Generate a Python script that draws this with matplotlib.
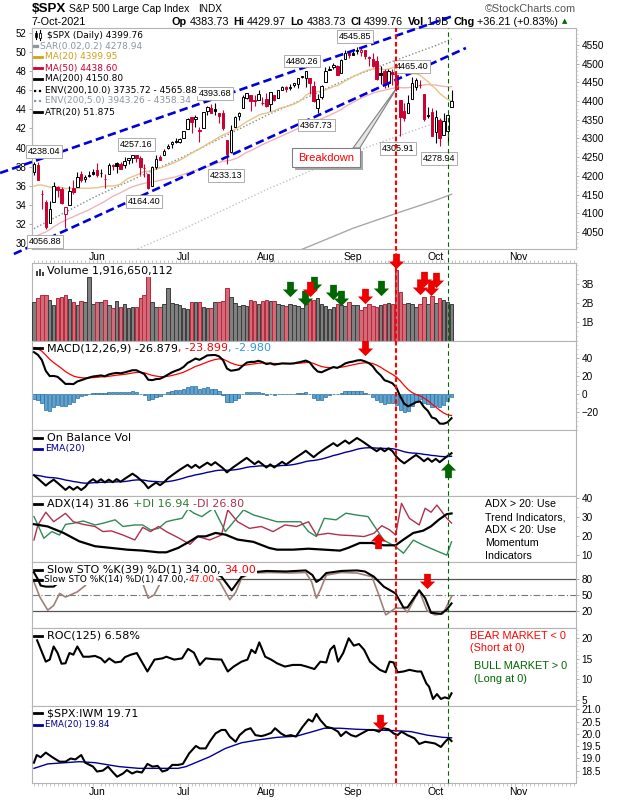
import numpy as np
import pandas as pd
import matplotlib
matplotlib.use("Agg")
import matplotlib.pyplot as plt
from matplotlib.lines import Line2D
from matplotlib.patches import Polygon, Rectangle
from matplotlib.path import Path
from matplotlib.ticker import AutoMinorLocator, FuncFormatter
import matplotlib.transforms as mtrans

plt.rcParams['font.family'] = ['Liberation Sans', 'DejaVu Sans']

# ---------------- data ----------------
holidays = ["2021-05-31", "2021-07-05", "2021-09-06", "2021-11-25"]
days = pd.bdate_range("2021-05-07", "2021-11-30")
days = days[~days.isin(pd.to_datetime(holidays))]

opens = [4210.34, 4228.29, 4150.34, 4130.55, 4074.99, 4129.58, 4169.92, 4165.94, 4098.45, 4121.97,
         4168.61, 4170.16, 4205.94, 4191.59, 4201.94, 4210.77, 4216.52, 4206.82, 4191.43, 4206.05,
         4229.34, 4233.81, 4232.99, 4228.56, 4242.90, 4248.31, 4255.28, 4248.87, 4220.37, 4204.78,
         4173.40, 4224.61, 4249.27, 4256.97, 4274.45, 4284.90, 4293.21, 4290.65, 4300.73, 4326.60,
         4356.46, 4351.01, 4321.07, 4329.38, 4372.41, 4381.07, 4380.11, 4369.02, 4367.43, 4296.40,
         4265.11, 4331.13, 4361.27, 4381.20, 4409.58, 4416.38, 4402.95, 4403.59, 4395.12, 4406.86,
         4392.74, 4415.95, 4408.86, 4429.07, 4437.77, 4435.79, 4442.18, 4446.08, 4464.84, 4461.65,
         4462.12, 4440.94, 4382.44, 4410.56, 4450.29, 4484.40, 4490.45, 4493.75, 4474.10, 4513.76,
         4529.75, 4528.80, 4534.48, 4532.42, 4535.38, 4518.09, 4513.02, 4506.92, 4474.81, 4479.33,
         4447.49, 4477.09, 4469.74, 4402.95, 4374.45, 4367.43, 4406.75, 4438.04, 4442.12, 4419.54,
         4362.41, 4370.67, 4317.16, 4348.84, 4309.87, 4319.57, 4383.73]
highs = [4238.04, 4236.39, 4162.04, 4134.73, 4131.58, 4183.13, 4171.92, 4169.15, 4116.93, 4172.80,
         4188.72, 4209.52, 4213.42, 4202.61, 4213.38, 4218.36, 4234.12, 4217.37, 4204.39, 4233.45,
         4232.34, 4236.74, 4237.09, 4249.74, 4248.38, 4255.59, 4257.16, 4251.89, 4232.29, 4204.78,
         4226.24, 4255.84, 4256.60, 4271.28, 4286.12, 4292.14, 4300.52, 4302.43, 4320.66, 4355.43,
         4356.46, 4361.88, 4330.88, 4371.60, 4386.68, 4392.37, 4393.68, 4369.02, 4375.09, 4296.40,
         4336.84, 4359.70, 4369.87, 4415.18, 4422.73, 4416.38, 4415.47, 4429.97, 4412.25, 4422.18,
         4423.79, 4416.17, 4429.76, 4440.82, 4439.39, 4445.21, 4449.44, 4461.77, 4468.37, 4480.26,
         4462.12, 4454.32, 4418.61, 4444.35, 4489.88, 4492.81, 4501.71, 4495.90, 4513.33, 4537.36,
         4531.39, 4537.11, 4545.85, 4541.45, 4535.38, 4521.79, 4529.90, 4520.47, 4492.99, 4485.68,
         4486.87, 4485.87, 4471.52, 4402.95, 4394.87, 4416.75, 4465.40, 4463.12, 4457.30, 4419.54,
         4385.57, 4382.55, 4375.19, 4355.51, 4369.23, 4365.57, 4429.97]
lows = [4201.64, 4188.13, 4111.53, 4056.88, 4074.99, 4129.58, 4142.69, 4125.99, 4061.41, 4121.97,
        4151.72, 4170.16, 4182.52, 4184.11, 4197.78, 4203.57, 4197.59, 4198.27, 4167.93, 4206.05,
        4215.66, 4208.41, 4218.74, 4220.34, 4232.25, 4234.07, 4238.35, 4202.45, 4196.05, 4164.40,
        4173.40, 4217.27, 4241.43, 4256.97, 4271.16, 4274.67, 4287.04, 4287.96, 4300.73, 4326.60,
        4314.37, 4329.79, 4289.37, 4329.38, 4364.03, 4366.92, 4362.36, 4340.70, 4322.53, 4233.13,
        4262.05, 4331.13, 4350.06, 4381.20, 4405.45, 4372.51, 4387.01, 4403.59, 4389.65, 4384.81,
        4373.00, 4400.23, 4408.86, 4429.07, 4424.74, 4430.03, 4436.42, 4435.96, 4460.82, 4437.66,
        4417.83, 4397.59, 4367.73, 4406.80, 4450.29, 4482.28, 4485.66, 4468.99, 4474.10, 4513.76,
        4515.80, 4522.02, 4524.66, 4521.94, 4513.00, 4493.95, 4492.07, 4457.66, 4445.70, 4435.46,
        4438.37, 4443.80, 4427.76, 4305.91, 4347.96, 4367.43, 4406.75, 4430.27, 4436.19, 4346.33,
        4355.08, 4306.24, 4288.52, 4278.94, 4309.87, 4290.49, 4383.73]
closes = [4232.60, 4188.43, 4152.10, 4063.04, 4112.50, 4173.85, 4163.29, 4127.83, 4115.68, 4159.12,
          4155.86, 4197.05, 4188.13, 4195.99, 4200.88, 4204.11, 4202.04, 4208.12, 4192.85, 4229.89,
          4226.52, 4227.26, 4219.55, 4239.18, 4247.44, 4255.15, 4246.59, 4223.70, 4221.86, 4166.45,
          4224.79, 4246.44, 4241.84, 4266.49, 4280.70, 4290.61, 4291.80, 4297.50, 4319.94, 4352.34,
          4343.54, 4358.13, 4320.82, 4369.55, 4384.63, 4369.21, 4374.30, 4360.03, 4327.16, 4258.49,
          4323.06, 4358.69, 4367.48, 4411.79, 4422.30, 4401.46, 4400.64, 4419.15, 4395.26, 4387.16,
          4423.15, 4402.66, 4429.10, 4436.52, 4432.35, 4436.75, 4447.70, 4460.83, 4468.00, 4479.71,
          4448.08, 4400.27, 4405.80, 4441.67, 4479.53, 4486.23, 4496.19, 4470.00, 4509.37, 4528.79,
          4522.68, 4524.09, 4536.95, 4535.43, 4520.03, 4514.07, 4493.28, 4458.58, 4468.73, 4443.05,
          4480.70, 4473.75, 4432.99, 4357.73, 4354.19, 4395.64, 4448.98, 4455.48, 4443.11, 4352.63,
          4359.46, 4307.54, 4357.04, 4300.46, 4345.72, 4363.55, 4399.76]
volumes = [2.05, 2.28, 2.40, 2.40, 2.16, 1.90, 2.25, 2.33, 2.42, 2.19,
           2.05, 1.88, 2.10, 2.07, 3.39, 1.93, 2.07, 2.05, 2.15, 1.88,
           1.75, 2.10, 1.80, 1.92, 1.75, 1.80, 1.80, 2.25, 2.40, 3.45,
           2.05, 1.80, 1.80, 1.95, 2.77, 1.98, 1.92, 1.88, 1.72, 1.70,
           2.07, 2.05, 2.07, 1.80, 1.75, 1.75, 2.07, 2.05, 2.10, 2.80,
           2.30, 2.00, 1.85, 1.90, 1.85, 2.15, 2.10, 1.95, 2.10, 2.15,
           2.10, 2.08, 1.95, 1.90, 1.85, 1.92, 1.90, 1.85, 1.75, 1.95,
           2.20, 2.15, 2.25, 1.92, 1.85, 1.70, 1.80, 1.95, 1.90, 1.85,
           2.05, 1.90, 1.90, 1.65, 1.80, 1.92, 1.85, 1.80, 1.90, 1.95,
           2.00, 1.92, 3.75, 2.60, 1.95, 1.98, 1.95, 1.78, 1.95, 2.30,
           1.95, 2.35, 2.00, 2.25, 2.15, 2.05, 1.92]
# closes from 25-Feb-2021 to 6-May-2021 (warm-up for the averages and MACD)
prior_closes = [3829.34, 3811.15,
                3901.82, 3870.29, 3819.72, 3768.47, 3841.94, 3821.35, 3875.44, 3898.81, 3939.34, 3943.34,
                3968.94, 3962.71, 3974.12, 3915.46, 3913.10, 3940.59, 3910.52, 3889.14, 3909.52, 3974.54,
                3971.09, 3958.55, 3972.89,
                4019.87, 4077.91, 4073.94, 4079.95, 4097.17, 4128.80, 4127.99, 4141.59, 4124.66, 4170.42,
                4185.47, 4163.26, 4134.94, 4173.42, 4134.98, 4180.17, 4187.62, 4186.72, 4183.18, 4211.47,
                4181.17, 4192.66, 4164.66, 4167.59, 4201.62]

# values (trading-day index, value)
ma200_x = [0, 16, 38, 59, 70, 81, 92, 102, 106]
ma200_v = [3690, 3770, 3865, 3965, 4012, 4060, 4100, 4135, 4150.8]

adx_x = [0, 3.5, 7.5, 11.5, 15.5, 19.6, 23.6, 27.6, 31.6, 33.6, 36.6, 39.6, 41.6, 43.6, 46.1, 48.6, 51.7,
         55.7, 59.7, 61.7, 65.7, 69.7, 73.7, 77.7, 79.7, 82.7, 85.8, 88.8, 91.8, 93.8, 96.3, 98.8, 100.8,
         102.8, 104.8, 106]
adx_v = [26.2, 25.0, 21.6, 17.2, 14.6, 13.7, 12.8, 12.3, 11.4, 11.4, 13.7, 17.2, 19.8, 19.8, 21.6, 20.7, 18.1,
         16.9, 13.7, 12.8, 12.8, 13.3, 12.8, 12.3, 13.7, 16.3, 16.3, 15.1, 15.1, 18.1, 21.6, 22.8, 25.1,
         28.6, 31.5, 31.86]
pdi_x = [0, 1.0, 2.5, 4.5, 6.5, 8.0, 10.0, 12.5, 15.5, 17.5, 20.6, 22.6, 25.6, 27.6, 29.6, 31.6, 33.6, 35.6,
         37.6, 39.1, 40.6, 42.6, 45.6, 48.6, 50.7, 53.2, 55.7, 58.7, 61.7, 64.7, 67.7, 69.7, 71.7, 73.7,
         76.7, 79.2, 81.7, 84.8, 86.8, 88.8, 91.8, 93.8, 96.3, 98.8, 101.8, 104.8, 106]
pdi_v = [30.2, 25.8, 18.8, 22.3, 20.5, 26.1, 26.7, 27.9, 25.8, 26.7, 28.5, 25.0, 25.8, 25.8, 23.2, 24.0, 27.5,
         28.5, 29.3, 34.2, 32.0, 30.2, 34.6, 22.3, 27.5, 33.7, 31.1, 29.3, 27.5, 27.5, 27.5, 22.3, 19.7,
         29.3, 28.5, 32.0, 31.1, 30.2, 24.0, 17.8, 14.4, 10.9, 17.8, 15.2, 12.5, 9.9, 16.94]
mdi_x = [0, 1.0, 3.0, 5.0, 8.0, 10.0, 12.5, 15.5, 17.5, 19.6, 22.6, 25.6, 27.6, 29.6, 31.6, 33.6, 36.6, 39.6,
         41.6, 44.6, 47.6, 49.2, 51.7, 54.7, 57.7, 60.7, 63.7, 66.7, 69.7, 71.7, 74.7, 77.7, 80.7, 83.8,
         86.3, 88.3, 90.3, 91.8, 93.3, 95.3, 97.8, 99.3, 100.8, 102.3, 104.8, 106]
mdi_v = [17.9, 25.8, 32.5, 27.5, 31.9, 27.5, 26.1, 25.0, 22.3, 22.7, 20.5, 17.9, 24.5, 22.3, 25.0, 22.3, 19.1,
         15.6, 19.7, 17.9, 20.5, 33.7, 27.5, 24.0, 25.0, 22.3, 25.8, 25.0, 27.5, 20.5, 21.4, 20.5, 20.2,
         19.7, 21.4, 25.4, 23.2, 20.5, 37.2, 29.3, 25.8, 34.6, 32.5, 36.3, 29.3, 26.80]

sto39_x = [0, 1.0, 1.7, 3.0, 5.0, 6.0, 7.5, 10, 13, 16, 20, 24, 27, 29, 31, 34, 38, 42, 45, 47.6, 50.2,
           52.7, 55, 59, 64, 69, 70.7, 71.7, 72.7, 74.2, 78, 82, 84, 86.3, 88.8, 91.8, 93.8, 94.8, 97.8,
           99.3, 100.8, 103.3, 104.8, 106]
sto39_v = [93, 80, 68, 66, 66, 72, 80, 84, 88, 90, 88, 92, 90, 80, 84, 92, 95, 96, 95, 85, 59,
           85, 93, 96, 95, 97, 88, 75, 80, 92, 96, 97, 95, 85, 66, 53, 26, 26, 59,
           44, 16, 14, 22, 34]
sto14_x = [0, 1.5, 3.5, 5.0, 6.5, 8.0, 11, 13, 14.5, 16, 20, 25, 27.5, 29, 30.5, 32, 34, 38, 45, 47.2,
           49.7, 51.2, 52.7, 55, 60, 65, 69, 70.5, 71.7, 72.7, 74.2, 78, 82, 85.8, 87.3, 89.3, 91.8,
           93.8, 94.8, 97.8, 99.8, 101.8, 103.8, 106]
sto14_v = [75, 46, 21, 30, 53, 46, 56, 68, 80, 88, 85, 90, 75, 44, 50, 72, 88, 92, 90, 75,
           41, 55, 82, 92, 93, 92, 93, 75, 44, 60, 88, 93, 92, 85, 55, 12, 25,
           25, 17, 59, 20, 12, 14, 47]

roc_x = [0.8, 3.0, 4.0, 5.0, 6.0, 7.0, 8.0, 9.0, 10.0, 11.0, 12.5, 14.0, 15.5, 17.0, 18.0, 19.1, 20.6,
         22.1, 23.1, 24.6, 26.1, 27.6, 28.8, 30.6, 32.6, 33.6, 35.6, 37.6, 39.1, 40.6, 42.1, 43.6, 45.6,
         47.6, 49.2, 50.7, 52.7, 54.2, 55.2, 56.2, 57.2, 58.7, 60.2, 61.7, 63.7, 65.7, 67.7, 69.2, 71.2,
         72.7, 74.2, 75.2, 76.2, 77.2, 78.5, 79.9, 81.2, 82.5, 83.8, 85.3, 86.8, 87.8, 89.3, 90.3, 91.3,
         92.3, 93.8, 95.3, 97.3, 98.3, 99.6, 100.3, 101.3, 102.3, 103.3, 104.3, 105.3, 106]
roc_v = [19.5, 14.3, 14.8, 18.0, 16.4, 13.8, 13.9, 16.4, 16.0, 18.0, 15.5, 15.5, 15.7, 15.1, 14.1, 15.1, 14.1,
         14.3, 15.4, 16.0, 16.4, 13.9, 11.9, 14.8, 15.1, 15.5, 14.8, 15.1, 17.4, 16.5, 13.5, 15.1, 14.9,
         14.8, 11.9, 13.1, 14.3, 14.8, 17.2, 16.4, 19.0, 15.5, 14.8, 13.9, 13.1, 13.5, 13.5, 13.1, 12.5,
         14.3, 14.1, 17.2, 18.2, 14.3, 16.4, 20.0, 18.2, 18.6, 17.2, 14.3, 13.1, 12.3, 11.7, 14.3, 14.1,
         11.7, 11.9, 12.3, 11.9, 11.9, 9.0, 8.2, 5.2, 6.4, 5.2, 5.6, 5.3, 6.58]

ratio_x = [0, 0.7, 1.7, 3.0, 4.5, 6.5, 8.0, 9.3, 10.5, 12.0, 13.0, 15.0, 16.0, 17.5, 18.8, 20.1, 21.1, 22.6,
           23.6, 24.9, 26.1, 27.4, 28.8, 30.1, 31.4, 32.6, 33.8, 35.1, 36.6, 37.8, 39.4, 41.1, 42.1, 43.6,
           44.6, 46.1, 47.6, 48.6, 49.7, 51.2, 52.2, 53.7, 55.0, 56.2, 57.7, 58.7, 60.2, 61.2, 62.7, 63.9,
           65.2, 66.5, 68.2, 69.7, 70.7, 71.7, 72.7, 74.2, 75.7, 77.2, 77.9, 79.2, 80.5, 81.7, 83.2, 84.8,
           86.3, 87.6, 88.6, 90.0, 91.3, 92.3, 93.3, 94.8, 96.6, 97.8, 99.3, 100.8, 101.8, 103.3, 104.5,
           105.3, 106]
ratio_v = [18.83, 19.14, 19.05, 19.24, 19.07, 18.87, 18.87, 19.0, 18.96, 19.14, 18.83, 18.67, 18.47, 18.51,
           18.67, 18.43, 18.26, 18.39, 18.53, 18.39, 18.47, 18.43, 18.78, 18.67, 18.70, 18.47, 18.53, 18.74,
           18.74, 18.78, 19.21, 19.51, 19.41, 19.41, 19.68, 20.02, 20.16, 20.16, 19.89, 19.68, 19.95, 20.16,
           20.23, 19.95, 19.91, 19.95, 20.04, 20.23, 20.02, 19.91, 19.95, 19.89, 20.29, 20.59, 20.50, 20.81,
           20.56, 20.29, 20.23, 20.09, 19.91, 20.09, 19.95, 19.89, 20.02, 20.16, 20.16, 20.09, 20.23, 20.19,
           20.02, 19.95, 20.09, 19.95, 19.82, 19.59, 19.68, 19.64, 19.61, 19.47, 19.70, 19.82, 19.71]
ratio_ema_x = [0, 3.5, 11.5, 15.5, 21.6, 26.6, 31.6, 36.6, 38.6, 41.6, 44.6, 48.6, 52.7, 56.7, 61.7, 66.7,
               70.7, 73.7, 77.7, 81.7, 86.8, 91.8, 95.8, 99.8, 103.8, 106]
ratio_ema_v = [18.6, 18.78, 18.87, 18.83, 18.67, 18.6, 18.6, 18.6, 18.67, 18.87, 19.07, 19.41, 19.64, 19.75,
               19.86, 19.91, 20.09, 20.23, 20.23, 20.19, 20.16, 20.13, 20.09, 19.95, 19.86, 19.84]

# chart annotations
tag_idx = [0, 3, 26, 29, 46, 49, 69, 72, 82, 93, 96, 103]
tag_high = [True, False, True, False, True, False, True, False, True, False, True, False]
tag_dx = [10, -1, 0, -4, 0, -1, -4, -1, -2, -2, 0, -1]
upper_trend = ([-8.6, 106.35], [4207.8, 4627.5])
lower_trend = ([-5.1, 109.65], [3991.2, 4542.0])
red_vline, green_vline = 92, 105
vol_green_x = [65.0, 68.7, 71.0, 76.0, 77.9, 88.1]
vol_green_y = [2.74, 2.28, 3.0, 2.56, 2.25, 2.77]
vol_red_x = [70.2, 84.0, 91.8, 98.1, 99.0, 100.8, 102.1]
vol_red_y = [2.74, 2.38, 4.2, 2.86, 3.26, 2.79, 3.21]

RED = '#cc0033'
W, H = 620, 800
LEFT, RIGHT = 32, 576
XMAX = 137.6

fig = plt.figure(figsize=(6.2, 8.0), dpi=100)
renderer = fig.canvas.get_renderer()


def fx(px):
    return px / W


def fy(py):
    return 1 - py / H


def panel(top, bottom):
    a = fig.add_axes([fx(LEFT), fy(bottom), (RIGHT - LEFT) / W, (bottom - top) / H])
    a.set_xlim(-0.5, XMAX)
    for s in a.spines.values():
        s.set_color('#b4b4b4')
        s.set_linewidth(0.8)
    a.yaxis.tick_right()
    a.tick_params(axis='y', which='major', length=2.5, width=0.6, color='#a0a0a0', labelsize=7.2, pad=1.5)
    a.tick_params(axis='y', which='minor', length=1.5, width=0.5, color='#c8c8c8')
    a.set_xticks([])
    return a


def legend(y, parts, x=47, size=8, icon=None, icon_color='black'):
    if icon == 'line':
        fig.add_artist(Line2D([fx(34), fx(42)], [fy(y), fy(y)], color=icon_color, lw=2, zorder=21))
    elif icon == 'dots':
        fig.add_artist(Line2D([fx(34), fx(43)], [fy(y), fy(y)], color=icon_color, lw=1.6,
                              linestyle=(0, (1, 1.2)), zorder=21))
    for part in parts:
        s, colr = part[0], part[1]
        x += part[2] if len(part) > 2 else 0
        t = fig.text(fx(x), fy(y), s, color=colr, fontsize=size, family=['DejaVu Sans'],
                     va='center', ha='left', zorder=20,
                     bbox=dict(boxstyle='square,pad=0.08', fc='white', ec='none'))
        x += t.get_window_extent(renderer).width


down_arrow = Path([(-0.22, 0.5), (0.22, 0.5), (0.22, 0.0), (0.5, 0.0), (0.0, -0.5),
                   (-0.5, 0.0), (-0.22, 0.0), (-0.22, 0.5)], closed=True)
up_arrow = Path([(vx, -vy) for vx, vy in down_arrow.vertices], closed=True)


def arrows(a, xs, ys, marker, color, transform=None):
    kw = {} if transform is None else {'transform': transform}
    a.plot(xs, ys, linestyle='none', marker=marker, markersize=11, color=color,
           markeredgewidth=0, clip_on=False, zorder=15, **kw)


x = np.arange(len(closes))
o, hi, lo, c = (np.array(v) for v in (opens, highs, lows, closes))
prev = np.r_[prior_closes[-1], c[:-1]]
up = c >= prev
edge = np.where(up, 'black', RED)
face = np.where(c >= o, 'white', edge)

allc = pd.Series(prior_closes + closes)
n0 = len(prior_closes)
ma20 = allc.rolling(20).mean().values[n0:]
ma50 = allc.rolling(50).mean().values[n0:]
macd_all = allc.ewm(span=12, adjust=False).mean() - allc.ewm(span=26, adjust=False).mean()
sig_all = macd_all.ewm(span=9, adjust=False).mean()
macd = macd_all.values[n0:]
signal = sig_all.values[n0:]
hist = macd - signal
obv = np.cumsum(np.sign(c - prev) * np.array(volumes))
obv_ema = pd.Series(obv).ewm(span=20, adjust=False).mean().values
ma200 = np.array(ma200_v)

month_idx = [int(np.argmax((days.month == m) & (days.day <= 7))) for m in range(6, 12)]
month_lbl = ['Jun', 'Jul', 'Aug', 'Sep', 'Oct', 'Nov']

# ---------------- header ----------------
fig.text(fx(32), fy(8.5), "$SPX", fontsize=9.6, fontweight='bold', va='center', zorder=-1)
fig.text(fx(69), fy(9), "S&P 500 Large Cap Index", fontsize=7.5, va='center', zorder=-1)
fig.text(fx(198), fy(9), "INDX", fontsize=7.2, va='center', zorder=-1)
fig.text(fx(576), fy(9), "\u00a9StockCharts.com", fontsize=7.8, color='#555555', ha='right',
         va='center', zorder=-1)
fig.text(fx(32), fy(22), "7-Oct-2021", fontsize=7.8, va='center', zorder=-1)
quote = [("Op", True), ("4383.73", False), ("Hi", True), ("4429.97", False), ("Lo", True),
         ("4383.73", False), ("Cl", True), ("4399.76", False), ("Vol", True), ("1.9B", False),
         ("Chg", True), ("+36.21 (+0.83%)", False)]
qx = 172
for s, b in quote:
    t = fig.text(fx(qx), fy(22), s, fontsize=7.8, fontweight='bold' if b else 'normal',
                 va='center', zorder=-1)
    qx += t.get_window_extent(renderer).width + (2.5 if b else 4.5)
fig.text(fx(qx), fy(21.5), "\u25b2", color='#006600', fontsize=5, va='center',
         family=['DejaVu Sans'], zorder=-1)

# ---------------- price panel ----------------
ax = panel(28, 249)
ax.set_ylim(4004.5, 4595.5)
ax.set_yticks(range(4050, 4551, 50))
ax.yaxis.set_minor_locator(AutoMinorLocator(5))
ax.set_xticks(month_idx)
ax.set_xticklabels(month_lbl, fontsize=7.5)
ax.tick_params(axis='x', length=0, pad=2.5)

sec = ax.secondary_yaxis('left', functions=(lambda p: 30 + (p - 4020.6) * 22 / 561.4,
                                            lambda a: 4020.6 + (a - 30) * 561.4 / 22))
sec.set_yticks(range(30, 53, 2))
sec.tick_params(length=2.5, width=0.6, color='#a0a0a0', labelsize=7.0, pad=1.5)
sec.spines['left'].set_color('#b4b4b4')

ax.plot(ma200_x, ma200 * 1.10, color='#8a8a8a', lw=1, linestyle=(0, (1, 1.5)), zorder=2)
ax.plot(ma200_x, ma200 * 1.05, color='#c4c4c4', lw=1, linestyle=(0, (1, 1.5)), zorder=2)
ax.plot(ma200_x, ma200, color='#a8a8a8', lw=1, zorder=2)
ax.plot(x, ma50, color='#f0b4b8', lw=1, zorder=2)
ax.plot(x, ma20, color='#e8c48a', lw=1, zorder=2)

ax.vlines(x, lo, hi, colors=edge, lw=0.8, zorder=4)
ax.bar(x, np.maximum(np.abs(c - o), 0.6), bottom=np.minimum(o, c), width=0.62, color=face,
       edgecolor=edge, linewidth=0.7, zorder=5)

for tr in (upper_trend, lower_trend):
    ax.plot(tr[0], tr[1], color='#0000dd', lw=1.9, dashes=(3.2, 1.6), clip_on=False, zorder=12)

for i, is_h, dx in zip(tag_idx, tag_high, tag_dx):
    p = hi[i] if is_h else lo[i]
    ax.annotate(f"{p:.2f}", xy=(i, p), xytext=(dx * 0.72, (10 if is_h else -12) * 0.72),
                textcoords='offset points', ha='center', va='center', fontsize=6.5,
                bbox=dict(boxstyle='square,pad=0.2', fc='white', ec='#a0a0a0', lw=0.6),
                zorder=16, annotation_clip=False)

# "Breakdown" callout
ax.add_patch(Polygon([(81.0, 4274.6), (92.6, 4443.0), (82.7, 4274.6)], closed=True,
                     fc='#e6e6e6', ec='#808080', lw=0.8, zorder=13))
ax.add_patch(Rectangle((66.3, 4215.8), 17.2, 50.8, fc='#a8a8a8', ec='none', zorder=13))
ax.add_patch(Rectangle((65.5, 4223.8), 17.2, 50.8, fc='white', ec='#808080', lw=0.8, zorder=14))
ax.text(74.1, 4249, "Breakdown", color='#ff0000', fontsize=8, ha='center', va='center', zorder=15)

LS = 6.5
legend(35, [("$SPX (Daily) 4399.76", 'black')], size=LS)
fig.add_artist(Line2D([fx(36), fx(36)], [fy(31), fy(39)], color='black', lw=0.8, zorder=21))
fig.add_artist(Rectangle((fx(35), fy(37)), fx(2), 4 / H, fc='black', ec='black', lw=0.5, zorder=21))
fig.add_artist(Line2D([fx(40), fx(40)], [fy(30), fy(40)], color='black', lw=0.8, zorder=21))
fig.add_artist(Rectangle((fx(39), fy(38)), fx(2), 5 / H, fc='white', ec='black', lw=0.6, zorder=21))
legend(46, [("SAR(0.02,0.2) 4278.94", '#8c96a0')], x=40, size=LS)
fig.add_artist(Line2D([fx(34), fx(37)], [fy(46), fy(46)], color='#8c96a0', lw=0, marker='s',
                      markersize=2, zorder=21))
legend(57, [("MA(20) 4399.95", '#d4a017')], x=45, size=LS, icon='line', icon_color='#d4a017')
legend(68, [("MA(50) 4438.60", RED)], x=45, size=LS, icon='line', icon_color=RED)
legend(79, [("MA(200) 4150.80", 'black')], x=45, size=LS, icon='line')
legend(91, [("ENV(200,10.0) 3735.72 - 4565.88", 'black')], x=45, size=LS, icon='dots')
legend(101, [("ENV(200,5.0) 3943.26 - 4358.34", '#8c96a0')], x=45, size=LS, icon='dots',
       icon_color='#8c96a0')
legend(112, [("ATR(20) 51.875", 'black')], x=45, size=LS, icon='line')

# ---------------- volume ----------------
axv = panel(263, 341)
axv.set_ylim(0, 4.1)
axv.set_yticks([1, 2, 3])
axv.yaxis.set_major_formatter(FuncFormatter(lambda v, _: f"{v:.0f}B"))
axv.yaxis.set_minor_locator(AutoMinorLocator(4))
axv.set_xticks(np.arange(0, 138), minor=True)
axv.tick_params(axis='x', which='minor', top=True, bottom=False, length=2, width=0.5, color='#b0b0b0')
axv.bar(x, volumes, width=0.9, color=np.where(up, '#7f7f7f', '#d46a78'),
        edgecolor=np.where(up, '#3c3c3c', '#b8283c'), linewidth=0.7, zorder=3)
arrows(axv, vol_green_x, vol_green_y, down_arrow, '#006600')
arrows(axv, vol_red_x, vol_red_y, down_arrow, '#ee0000')
legend(271, [("Volume 1,916,650,112", 'black')])
for bx, bh in ((35.5, 5), (38.5, 7), (41.5, 4)):
    fig.add_artist(Rectangle((fx(bx), fy(275.5)), 2 / W, bh / H, fc='#444444', ec='none', zorder=21))

# ---------------- MACD ----------------
axm = panel(341, 430)
axm.set_ylim(-40, 58.9)
axm.set_yticks([-20, 0, 20, 40])
axm.yaxis.set_minor_locator(AutoMinorLocator(4))
axm.bar(x, hist, width=0.85, color='#5aa5d6', edgecolor='#2a6a98', linewidth=0.5, zorder=2)
axm.plot(x, signal, color='#ff0000', lw=0.9, zorder=3)
axm.plot(x, macd, color='black', lw=1.5, zorder=4)
arrows(axm, [84.0], [51.4], down_arrow, '#ee0000')
legend(348.5, [("MACD(12,26,9) -26.879", 'black'), (", -23.899", '#ff0000'), (", -2.980", '#3399cc')],
       icon='line')

# ---------------- OBV ----------------
axo = panel(430, 496)
axo.set_yticks([])
r = obv.max() - obv.min()
axo.set_ylim(obv.min() - 6 / 52 * r, obv.max() + 8 / 52 * r)
axo.plot(x, obv_ema, color='#000099', lw=1, zorder=2)
axo.plot(x, obv, color='black', lw=1.5, zorder=3)
arrows(axo, [105.1], [0.394], up_arrow, '#006600',
       transform=mtrans.blended_transform_factory(axo.transData, axo.transAxes))
legend(437.7, [("On Balance Vol", 'black')], icon='line')
legend(449, [("EMA(20)", '#000099')], x=45, size=6.8, icon='line', icon_color='#000099')

# ---------------- ADX ----------------
axa = panel(496, 562)
axa.set_ylim(6.3, 41.05)
axa.set_yticks([10, 20, 30, 40])
axa.yaxis.set_minor_locator(AutoMinorLocator(2))
axa.plot(pdi_x, pdi_v, color='#2e8b57', lw=1, zorder=2)
axa.plot(mdi_x, mdi_v, color='#b03050', lw=1, zorder=2)
axa.plot(adx_x, adx_v, color='black', lw=1.6, zorder=3)
arrows(axa, [87.3], [17.5], up_arrow, '#ee0000')
legend(504, [("ADX(14) 31.86", 'black'), ("+DI 16.94", '#2e7d32', 4), ("-DI 26.80", '#b03050', 4)],
       icon='line')
for k, line in enumerate(["ADX > 20: Use", "Trend Indicators,", "ADX < 20: Use", "Momentum",
                          "Indicators"]):
    fig.text(fx(485), fy(504 + 13 * k), line, fontsize=7.7, va='center', zorder=20)

# ---------------- Slow STO ----------------
axs = panel(562, 628)
axs.set_ylim(-13.1, 113.1)
axs.set_yticks([20, 50, 80])
axs.axhline(80, color='#555555', lw=0.9, zorder=1)
axs.axhline(20, color='#555555', lw=0.9, zorder=1)
axs.axhline(50, color='#777777', lw=0.8, dashes=(6, 2, 1, 2), zorder=1)
axs.plot(sto14_x, sto14_v, color='#a08078', lw=1.2, zorder=2)
axs.plot(sto39_x, sto39_v, color='black', lw=1.5, zorder=3)
arrows(axs, [99.8], [77], down_arrow, '#ee0000')
legend(570, [("Slow STO %K(39) %D(1) 34.00,", 'black'), ("34.00", '#ff0000', 3.5)], icon='line')
legend(579.5, [("Slow STO %K(14) %D(1) 47.00,", 'black'), ("47.00", '#ff0000', 3)], x=43.5,
       size=6.6, icon='line')

# ---------------- ROC ----------------
axr = panel(628, 706)
axr.set_ylim(3.49, 22.5)
axr.set_yticks([5, 10, 15, 20])
axr.yaxis.set_minor_locator(AutoMinorLocator(5))
axr.plot(roc_x, roc_v, color='black', lw=1.5, zorder=3)
legend(636, [("ROC(125) 6.58%", 'black')], icon='line')
for (ty, tx, s, colr) in ((636, 470, "BEAR MARKET < 0", '#ff0000'), (648, 470, "(Short at 0)", '#ff0000'),
                          (666, 474, "BULL MARKET > 0", '#006600'), (679, 474, "(Long at 0)", '#006600')):
    fig.text(fx(tx), fy(ty), s, color=colr, fontsize=7.8, va='center', zorder=20)

# ---------------- SPX:IWM ----------------
axi = panel(706, 783)
axi.set_ylim(18.004, 21.134)
axi.set_yticks(np.arange(18.5, 21.01, 0.5))
axi.yaxis.set_major_formatter(FuncFormatter(lambda v, _: f"{v:.1f}"))
axi.yaxis.set_minor_locator(AutoMinorLocator(2))
axi.set_xticks(month_idx)
axi.set_xticklabels(month_lbl, fontsize=7.5)
axi.set_xticks(np.arange(0, 138), minor=True)
axi.tick_params(axis='x', which='major', length=0, pad=3)
axi.tick_params(axis='x', which='minor', length=2, width=0.5, color='#b0b0b0')
axi.plot(ratio_ema_x, ratio_ema_v, color='#000099', lw=1, zorder=2)
axi.plot(ratio_x, ratio_v, color='black', lw=1.5, zorder=3)
arrows(axi, [87.8], [20.49], down_arrow, '#ee0000')
legend(713, [("$SPX:IWM 19.71", 'black')], icon='line')
legend(725, [("EMA(20) 19.84", '#000099')], x=45, size=6.3, icon='line', icon_color='#000099')

# ---------------- vertical markers across all panels ----------------
vt = mtrans.blended_transform_factory(ax.transData, fig.transFigure)
fig.add_artist(Line2D([red_vline] * 2, [fy(783), fy(28)], transform=vt, color='#ff0000', lw=1.5,
                      dashes=(2.2, 1.3), zorder=10))
fig.add_artist(Line2D([green_vline] * 2, [fy(783), fy(28)], transform=vt, color='#006600', lw=0.8,
                      dashes=(4, 3), zorder=10))

fig.savefig("out.png", dpi=100)
